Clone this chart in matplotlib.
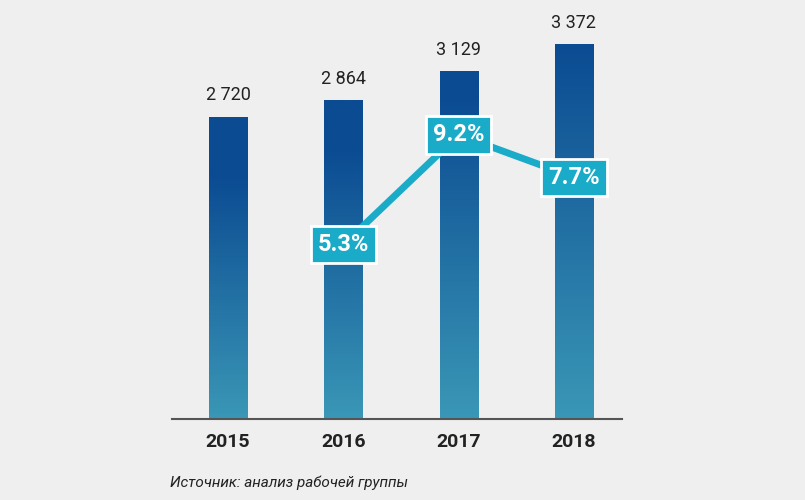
import numpy as np
import matplotlib
matplotlib.use("Agg")
import matplotlib.pyplot as plt
from matplotlib.colors import LinearSegmentedColormap

# данные
годы = ["2015", "2016", "2017", "2018"]
значения = [2720, 2864, 3129, 3372]
рост_годы = [1, 2, 3]
рост = [5.3, 9.2, 7.7]

фон = "#efefef"
fig = plt.figure(figsize=(8.05, 5.0), dpi=100, facecolor=фон)
ax = fig.add_axes([172 / 805, 81 / 500, 450 / 805, 375 / 500])
ax.set_facecolor(фон)

x = np.arange(len(годы))
ширина = 0.33
cmap = LinearSegmentedColormap.from_list("g", ["#3a97b6", "#0b4b92"])
grad = np.linspace(0, 1, 256).reshape(-1, 1)
for xi, v in zip(x, значения):
    bar = ax.bar(xi, v, width=ширина, color="none", edgecolor="none")[0]
    im = ax.imshow(grad, extent=[xi - ширина / 2, xi + ширина / 2, 0, v],
                   origin="lower", aspect="auto", cmap=cmap, vmin=0, vmax=v / 3372, zorder=2)
    im.set_clip_path(bar)
    ax.text(xi, v + 110, f"{v:,}".replace(",", " "), ha="center", va="bottom",
            fontsize=13, color="#222222", family="Roboto")

ax.set_xlim(-0.486, 3.417)
ax.set_ylim(0, 3372)
for s in ["top", "right", "left"]:
    ax.spines[s].set_visible(False)
ax.spines["bottom"].set_color("#555555")
ax.spines["bottom"].set_linewidth(1.5)
ax.set_yticks([])
ax.set_xticks(x)
ax.set_xticklabels(годы, fontsize=14, fontweight="bold", color="#222222", family="Roboto")
ax.tick_params(axis="x", length=0, pad=10)

ax2 = ax.twinx()
ax2.set_ylim(-0.89, 12.43)
ax2.axis("off")
ax2.plot(рост_годы, рост, color="#1aabc8", lw=5, zorder=3)
for xi, r in zip(рост_годы, рост):
    ax2.text(xi, r, f"{r}%", ha="center", va="center", fontsize=17, fontweight="bold",
             color="white", family="Roboto", zorder=4,
             bbox=dict(boxstyle="square,pad=0.3", fc="#1aabc8", ec="white", lw=2))

fig.text(170 / 805, 1 - 483 / 500, "Источник: анализ рабочей группы", fontsize=11,
         style="italic", color="#222222", family="Roboto", va="center")

fig.savefig("out.png", dpi=100, facecolor=фон)
